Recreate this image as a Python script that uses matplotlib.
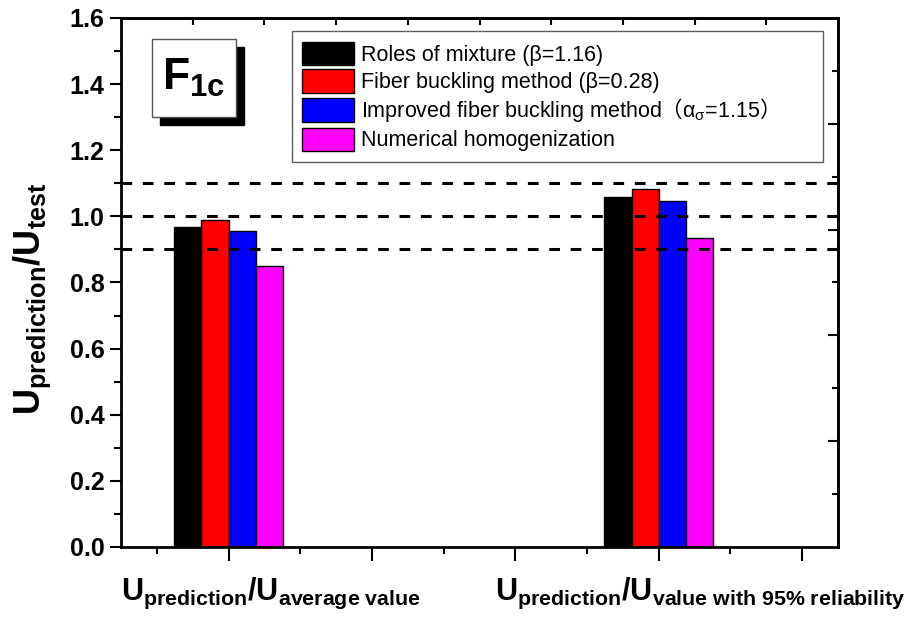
import matplotlib
matplotlib.use("Agg")
import matplotlib.pyplot as plt
import matplotlib.transforms as mtransforms
from matplotlib.patches import Rectangle
import numpy as np

plt.rcParams['font.family'] = ['Liberation Sans', 'Noto Sans CJK SC', 'DejaVu Sans']
plt.rcParams['mathtext.fontset'] = 'custom'
plt.rcParams['mathtext.rm'] = 'Liberation Sans'
plt.rcParams['mathtext.it'] = 'Liberation Sans'
plt.rcParams['mathtext.bf'] = 'Liberation Sans:bold'
plt.rcParams['mathtext.sf'] = 'Noto Sans CJK SC'  # only for the full-width brackets

# data
group_labels = [r'$\mathbf{U_{prediction}/U_{average\ value}}$',
                r'$\mathbf{U_{prediction}/U_{value\ with\ 95\%\ reliability}}$']
group_pos = [1, 4]
methods = ['Roles of mixture (β=1.16)',
           'Fiber buckling method (β=0.28)',
           'Improved fiber buckling method$\\mathsf{（}\\alpha_\\sigma$=1.15$\\mathsf{）}$',
           'Numerical homogenization']
colors = ['#000000', '#ff0000', '#0000ff', '#ff00ff']
ratio_avg = [0.967, 0.989, 0.957, 0.850]
ratio_95 = [1.058, 1.084, 1.047, 0.933]
ref_lines = [0.9, 1.0, 1.1]

fig = plt.figure(figsize=(9.14, 6.28), dpi=100)
ax = fig.add_axes([0.1324, 0.129, 0.7845, 0.8424])

bw = 0.19
for i, (name, c) in enumerate(zip(methods, colors)):
    vals = [ratio_avg[i], ratio_95[i]]
    xs = np.array(group_pos) + (i - 1.5) * bw
    ax.bar(xs, vals, width=bw, color=c, edgecolor='black', linewidth=1, label=name, zorder=2)

for y in ref_lines:
    ax.axhline(y, color='black', lw=2.2, ls=(0, (3.5, 3.5)), zorder=3)

ax.set_xlim(0.25, 5.25)
ax.set_ylim(0, 1.6)

ax.set_yticks(np.arange(0, 1.61, 0.2))
ax.set_yticks(np.arange(0.1, 1.6, 0.2), minor=True)
ax.set_yticklabels([f'{v:.1f}' for v in np.arange(0, 1.61, 0.2)])
ax.set_xticks([1, 2, 3, 4, 5])
ax.set_xticklabels([group_labels[0], '', '', group_labels[1], ''], fontsize=22)
ax.set_xticks(np.arange(0.5, 5.3, 1.0), minor=True)

ax.tick_params(axis='y', which='major', direction='out', length=8, width=1.5,
               labelsize=18, pad=4)
ax.tick_params(axis='y', which='minor', direction='out', length=5, width=1.5)
ax.tick_params(axis='x', which='major', direction='out', length=10, width=1.5, pad=11)
ax.tick_params(axis='x', which='minor', direction='out', length=5, width=1.5)
for lab in ax.get_yticklabels():
    lab.set_fontweight('bold')

# shift the category labels right like in the original
off = mtransforms.ScaledTranslation(0.42, 0, fig.dpi_scale_trans)
for lab in ax.get_xticklabels():
    lab.set_transform(lab.get_transform() + off)

for s in ax.spines.values():
    s.set_linewidth(2)

# right and top axes with their own inward ticks
sec_r = ax.secondary_yaxis('right')
sec_r.set_yticks(np.arange(0.32, 1.6, 0.32))
sec_r.set_yticks(np.arange(0.16, 1.6, 0.32), minor=True)
sec_r.tick_params(which='major', direction='in', length=7, width=1.5, labelright=False)
sec_r.tick_params(which='minor', direction='in', length=4, width=1.5)
sec_r.spines['right'].set_linewidth(2)

sec_t = ax.secondary_xaxis('top')
sec_t.set_xticks(np.arange(0.75, 5.25, 0.5))
sec_t.tick_params(direction='in', length=5, width=1.5, labeltop=False)
sec_t.spines['top'].set_linewidth(2)

ax.set_ylabel(r'$\mathbf{U_{prediction}/U_{test}}$', fontsize=26, labelpad=8)
ax.yaxis.set_label_coords(-0.095, 0.47)

leg = ax.legend(loc='upper left', bbox_to_anchor=(0.238, 0.726, 0.741, 0.249),
                mode='expand', borderaxespad=0,
                fontsize=15.5, fancybox=False, edgecolor='#333333', handlelength=2.4,
                handleheight=1.3, labelspacing=0.15, handletextpad=0.3,
                borderpad=0.5)
leg.get_frame().set_linewidth(1)

# F1c label box with shadow
ax.add_patch(Rectangle((0.054, 0.798), 0.117, 0.147, transform=ax.transAxes,
                       facecolor='black', edgecolor='black', zorder=4))
ax.add_patch(Rectangle((0.043, 0.813), 0.117, 0.147, transform=ax.transAxes,
                       facecolor='white', edgecolor='#555555', lw=1, zorder=5))
ax.text(0.1015, 0.8865, r'$\mathbf{F_{1c}}$', transform=ax.transAxes, fontsize=32,
        ha='center', va='center', zorder=6)

fig.savefig('out.png', dpi=100)
